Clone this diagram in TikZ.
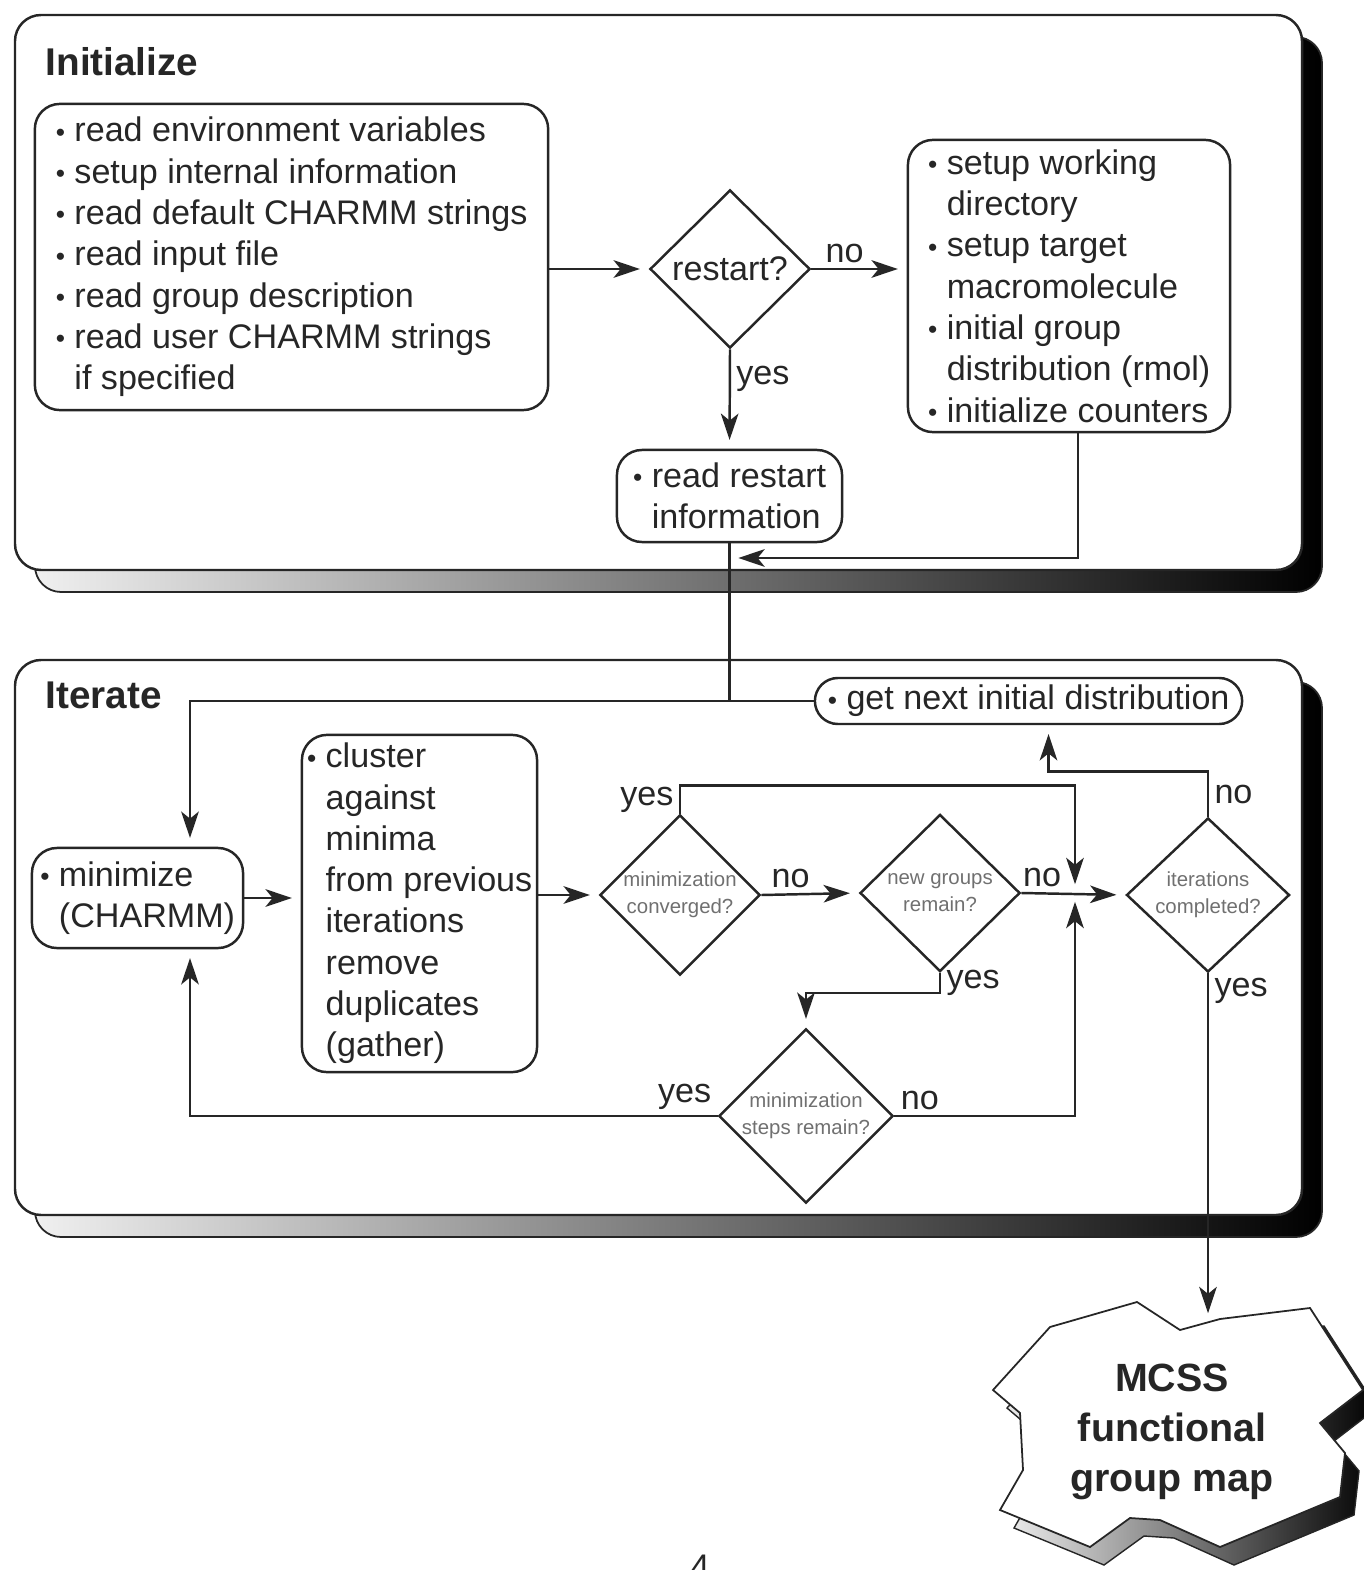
\documentclass[tikz,border=0pt]{standalone}
\usepackage{fontspec}
\setmainfont{Liberation Sans}
\usepackage{tikz}
\usetikzlibrary{positioning, arrows.meta, shapes.geometric}
\definecolor{ink}{HTML}{262626}
\definecolor{qgray}{HTML}{707070}
\newcommand{\itm}{\hbox to 5.4pt{\hskip 0.1pt\raisebox{0.2pt}{\fontsize{7.5}{7.5}\selectfont•}\hss}}
\newcommand{\ind}{\hspace*{5.4pt}}

\tikzset{
  stepbox/.style={draw=ink, line width=0.7pt, rounded corners=0.25cm, align=left, inner sep=0pt},
  query/.style={draw=ink, line width=0.7pt, diamond, aspect=1, inner sep=0pt, align=center},
  smallq/.style={query, text=qgray, font=\fontsize{5.8}{7.7}\selectfont},
  flow/.style={draw=ink, line width=0.7pt, -{Stealth[length=7.5pt, width=5pt, inset=2pt]}, shorten >=2.5pt},
  link/.style={draw=ink, line width=0.7pt},
  lbl/.style={inner sep=1.5pt},
  panelback/.style={draw=ink, line width=0.5pt, rounded corners=0.26cm, left color=gray!12, middle color=gray!60, right color=black},
  panelfront/.style={draw=ink, line width=0.7pt, fill=white, rounded corners=0.26cm},
  paneltitle/.style={anchor=base west, inner sep=0pt, font=\fontsize{11}{13}\selectfont\bfseries}
}

\begin{document}
\begin{tikzpicture}[x=0.01cm, y=-0.01cm, font=\fontsize{9.7}{11.75}\selectfont, text=ink]
  \useasboundingbox (0,0) rectangle (1364,1570);

  \shadedraw[panelback] (35,37) rectangle (1322,592);
  \draw[panelfront] (15,15) rectangle (1302,570);
  \shadedraw[panelback] (35,682) rectangle (1322,1237);
  \draw[panelfront] (15,660) rectangle (1302,1215);

  \begin{scope}[shift={(14,18)}]
    \shadedraw[draw=ink, line width=0.4pt, left color=gray!15, right color=black]
      (993,1390) -- (1050,1327) -- (1137,1302) -- (1180,1330) -- (1220,1319) -- (1310,1308)
      -- (1363,1390) -- (1320,1423) -- (1345,1453) -- (1340,1497) -- (1220,1547) -- (1160,1520)
      -- (1130,1518) -- (1090,1547) -- (1000,1510) -- (1023,1470) -- (1020,1413) -- cycle;
  \end{scope}
  \draw[ink, line width=0.5pt, fill=white]
    (993,1390) -- (1050,1327) -- (1137,1302) -- (1180,1330) -- (1220,1319) -- (1310,1308)
    -- (1363,1390) -- (1320,1423) -- (1345,1453) -- (1340,1497) -- (1220,1547) -- (1160,1520)
    -- (1130,1518) -- (1090,1547) -- (1000,1510) -- (1023,1470) -- (1020,1413) -- cycle;

  \node[paneltitle] (initttl) at (45,76) {Initialize};
  \node[paneltitle] (iterttl) at (45,708) {Iterate};

  \node[stepbox, minimum width=5.13cm, minimum height=3.06cm] (init) at (291.5,257) {%
    \itm read environment variables\\
    \itm setup internal information\\
    \itm read default CHARMM strings\\
    \itm read input file\\
    \itm read group description\\
    \itm read user CHARMM strings\\
    \ind if specified};
  \node[query, minimum width=1.6cm, minimum height=1.58cm] (restart) at (730,269) {restart?};
  \node[stepbox, minimum width=3.22cm, minimum height=2.92cm] (setup) at (1069,286) {%
    \itm setup working\\
    \ind directory\\
    \itm setup target\\
    \ind macromolecule\\
    \itm initial group\\
    \ind distribution (rmol)\\
    \itm initialize counters};
  \node[stepbox, minimum width=2.25cm, minimum height=0.92cm] (readrst) at (729.5,496) {%
    \itm read restart\\
    \ind information};

  \node[stepbox, rounded corners=0.23cm, minimum width=4.27cm, minimum height=0.46cm] (getnext) at (1028.5,701)
    {\itm get next initial distribution};
  \node[stepbox, minimum width=2.11cm, minimum height=1cm] (minimize) at (137.5,898) {%
    \itm minimize\\
    \ind(CHARMM)};
  \node[stepbox, minimum width=2.35cm, minimum height=3.37cm] (cluster) at (419.5,903.5) {%
    \itm cluster\\
    \ind against\\
    \ind minima\\
    \ind from previous\\
    \ind iterations\\
    \ind remove\\
    \ind duplicates\\
    \ind (gather)};
  \node[smallq, minimum width=1.6cm, minimum height=1.6cm] (conv) at (680,895) {minimization\\converged?};
  \node[smallq, minimum width=1.6cm, minimum height=1.57cm] (newgrp) at (940,893) {new groups\\remain?};
  \node[smallq, minimum width=1.63cm, minimum height=1.54cm] (itdone) at (1208,895) {iterations\\completed?};
  \node[smallq, minimum width=1.65cm, minimum height=1.58cm] (stepsrem) at (806,1116) {minimization\\steps remain?};

  \node[font=\fontsize{11.2}{14.2}\selectfont\bfseries, align=center] (map) at (1172,1432) {MCSS\\functional\\group map};
  \node[anchor=base] (pgnum) at (700,1578) {4};

  \coordinate (back) at (729.5,558);
  \coordinate (lc) at (190,701);
  \coordinate (mrg) at (1075,893);
  \coordinate (mapin) at (1208,1322);

  \draw[flow] (init.east |- restart.west) -- (restart.west);
  \draw[flow] (restart.east) -- node[lbl, above, pos=0.35] {no} (setup.west |- restart.east);
  \draw[flow] (restart.south) -- node[lbl, right, pos=0.3] {yes} (readrst.north);
  \draw[flow] ([xshift=0.09cm]setup.south) |- (back);
  \draw[link] (readrst.south) -- (readrst.south |- getnext.west);
  \draw[flow] (getnext.west) -| (lc |- minimize.north);
  \draw[flow] (minimize.east) -- (minimize.east -| cluster.west);
  \draw[flow] (cluster.east |- conv.west) -- (conv.west);
  \draw[flow] (conv.east) -- node[lbl, above, pos=0.3] {no} (newgrp.west);
  \draw[flow] (newgrp.east) -- node[lbl, above, pos=0.2] {no} (itdone.west);
  \draw[flow] (conv.north) -- node[lbl, left] {yes} ++(0,-28) -| (mrg);
  \draw[flow] (itdone.north) -- node[lbl, right] {no} ++(0,-45) -| ([xshift=0.2cm]getnext.south);
  \draw[flow] (newgrp.south) -- node[lbl, right] {yes} ++(0,20) -| (stepsrem.north);
  \draw[flow] (stepsrem.west) -| node[lbl, above left, pos=0] {yes} (lc |- minimize.south);
  \draw[flow] (stepsrem.east) -| node[lbl, above right, pos=0] {no} (mrg);
  \draw[flow] (itdone.south) -- node[lbl, right, pos=0.05] {yes} (mapin);
\end{tikzpicture}
\end{document}
